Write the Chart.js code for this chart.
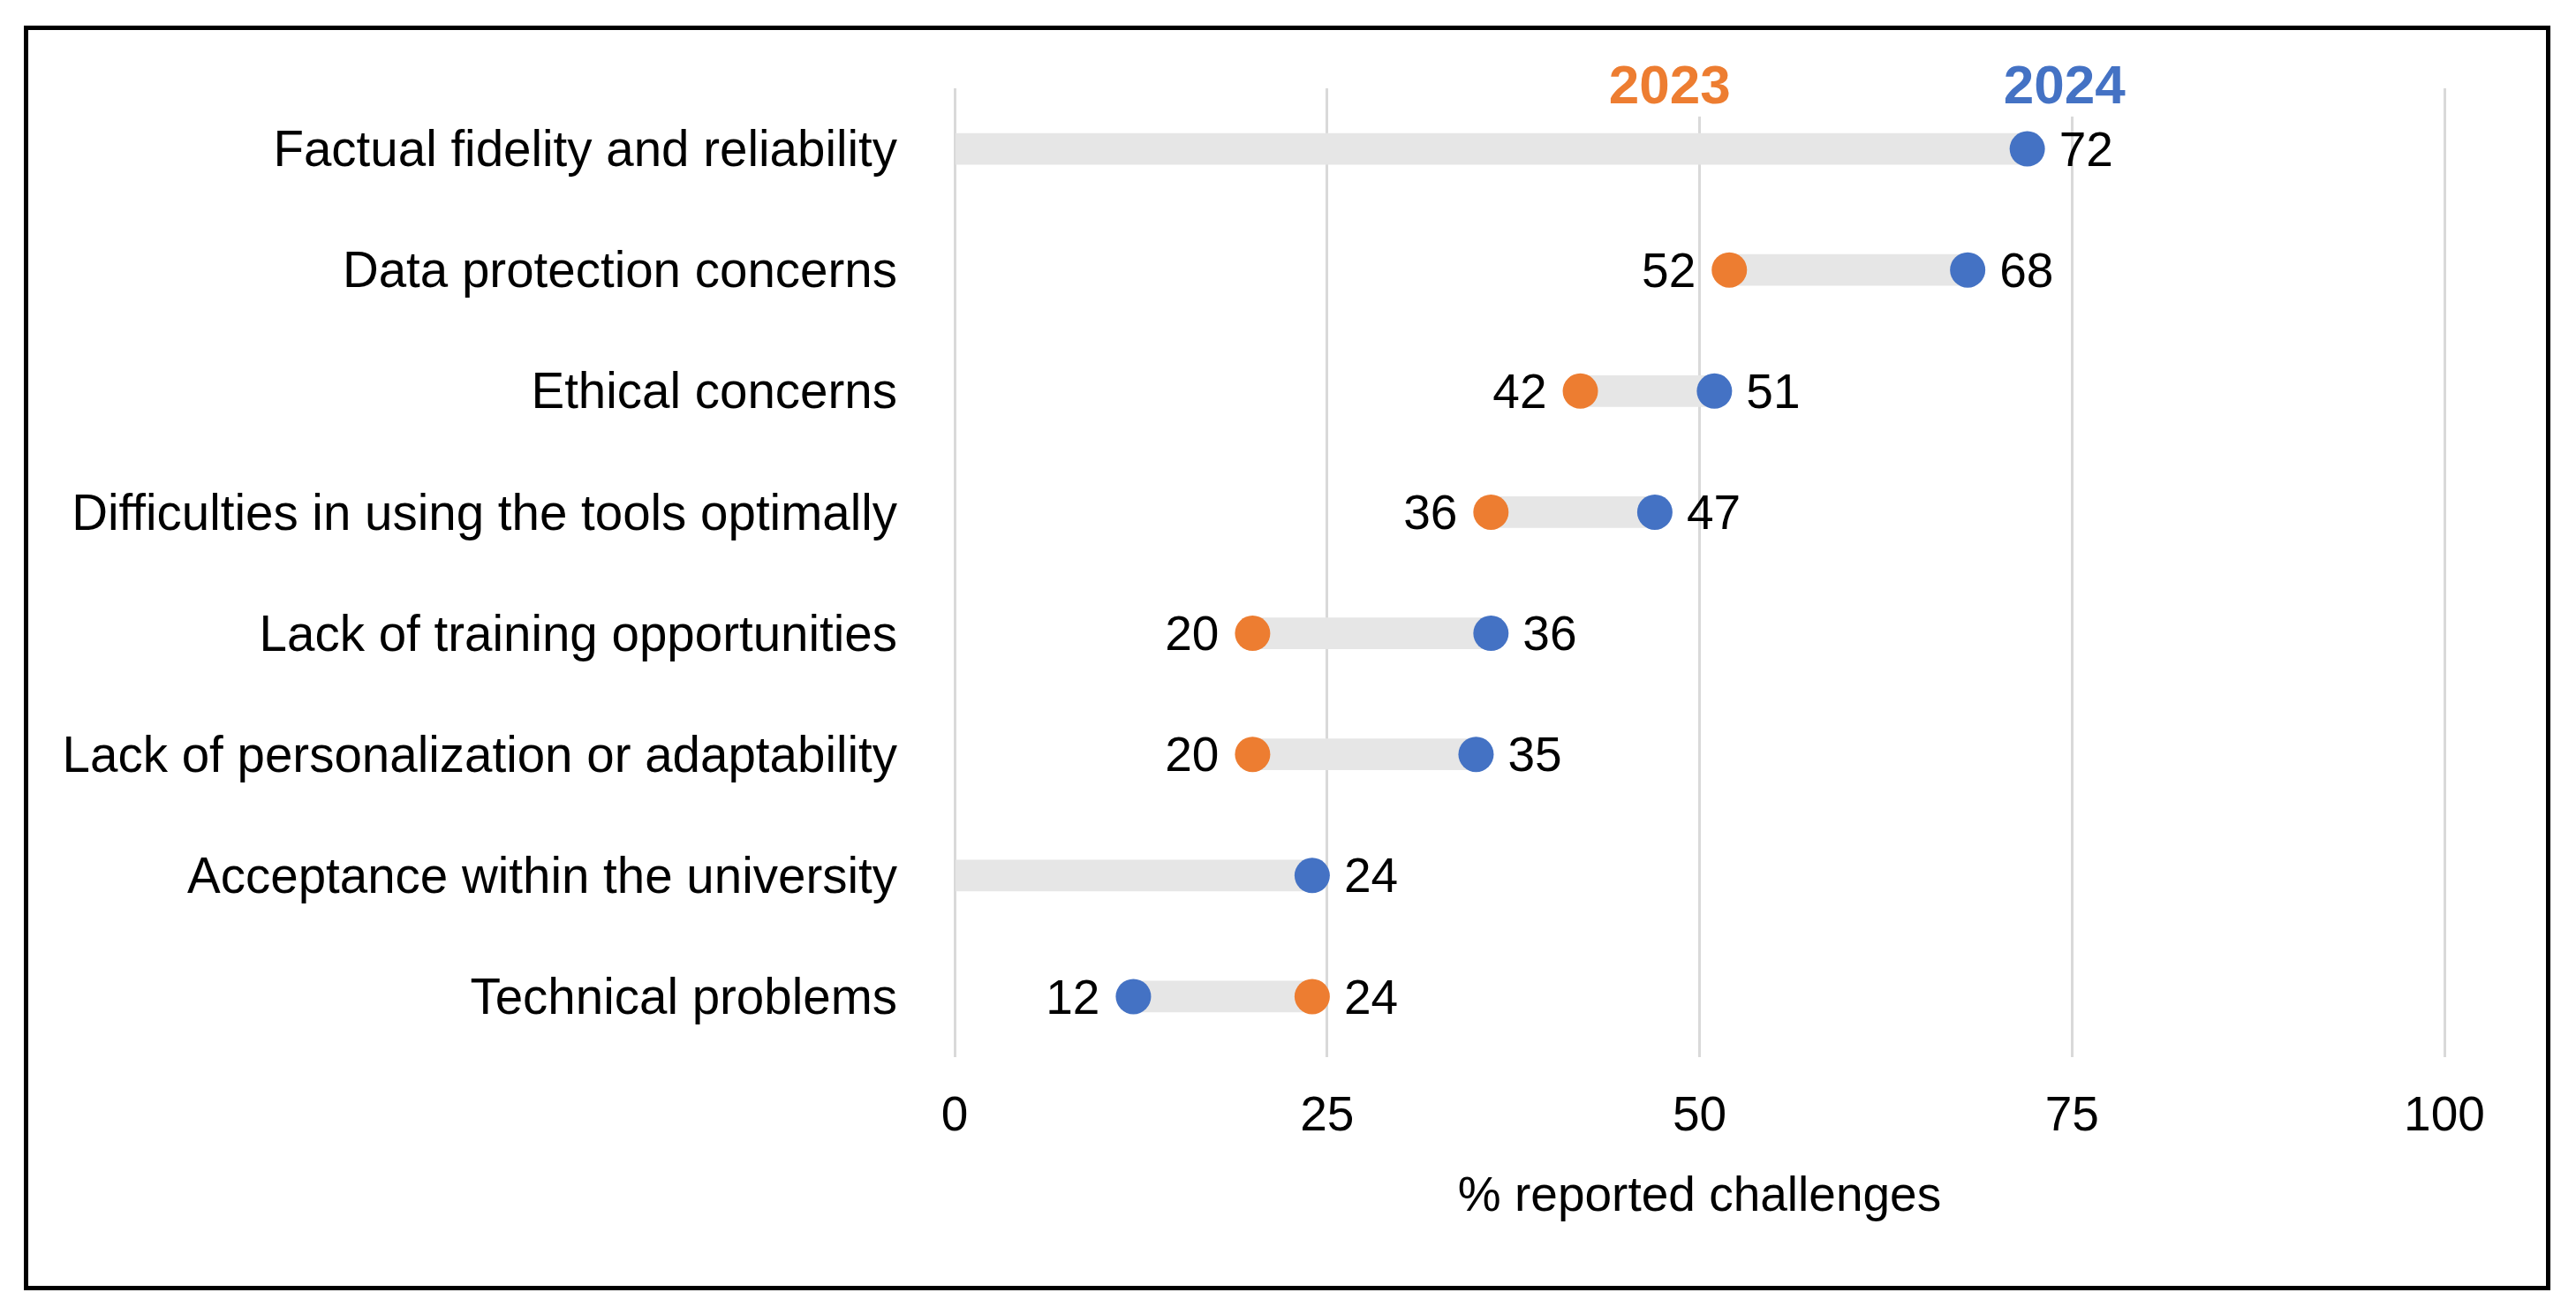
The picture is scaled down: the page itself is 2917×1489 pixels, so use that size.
<!DOCTYPE html>
<html>
<head>
<meta charset="utf-8">
<script src="https://cdn.jsdelivr.net/npm/chart.js@4.4.1/dist/chart.umd.min.js"></script>
<style>
  html, body { margin: 0; padding: 0; background: #fff; }
  #wrap { position: relative; width: 2917px; height: 1489px; overflow: hidden; }
  #frame {
    position: absolute; left: 27px; top: 29px; width: 2861px; height: 1432px;
    box-sizing: border-box; border: 5px solid #000;
  }
  #chart { position: absolute; left: 0; top: 0; }
</style>
</head>
<body>
<div id="wrap">
  <div id="frame"></div>
  <canvas id="chart" width="2917" height="1489"></canvas>
</div>
<script>
// --- data ---
const categories = [
  "Factual fidelity and reliability",
  "Data protection concerns",
  "Ethical concerns",
  "Difficulties in using the tools optimally",
  "Lack of training opportunities",
  "Lack of personalization or adaptability",
  "Acceptance within the university",
  "Technical problems",
];
const values2023 = [null, 52, 42, 36, 20, 20, null, 24];
const values2024 = [72, 68, 51, 47, 36, 35, 24, 12];
const xTicks = [0, 25, 50, 75, 100];
const axisTitle = "% reported challenges";

const ORANGE = "#ED7D31";
const BLUE = "#4472C4";
const BAR_GRAY = "#E6E6E6";
const FONT = '"Liberation Sans", Arial, Helvetica, sans-serif';

// grey connector: from 2023 (or 0 when missing) to 2024
const ranges = categories.map((c, i) => [values2023[i] ?? 0, values2024[i]]);

/**
 * Value labels next to each dot: smaller value on the left, larger on the right
 */
const valueLabels = {
  id: "valueLabels",
  afterDatasetsDraw(chart) {
    const ctx = chart.ctx;
    ctx.save();
    ctx.font = "55px " + FONT;
    ctx.fillStyle = "#000";
    ctx.textBaseline = "middle";
    const series = [values2023, values2024];
    series.forEach((vals, s) => {
      const other = series[1 - s];
      const meta = chart.getDatasetMeta(s + 1);
      vals.forEach((v, i) => {
        if (v === null) return;
        const pt = meta.data[i];
        const left = other[i] !== null && v < other[i];
        ctx.textAlign = left ? "right" : "left";
        ctx.fillText(String(v), left ? pt.x - 38 : pt.x + 36, pt.y + 4);
      });
    });
    ctx.restore();
  },
};

/**
 * "2023" / "2024" headers above the plot, masking the top of the grid lines
 */
const yearHeaders = {
  id: "yearHeaders",
  afterDatasetsDraw(chart) {
    const ctx = chart.ctx;
    const xScale = chart.scales.x;
    const top = chart.chartArea.top;
    const headers = [
      { text: "2023", color: ORANGE, at: 48 },
      { text: "2024", color: BLUE, at: 74.5 },
    ];
    ctx.save();
    ctx.font = "bold 62px " + FONT;
    ctx.textAlign = "center";
    ctx.textBaseline = "middle";
    headers.forEach((h) => {
      const x = xScale.getPixelForValue(h.at);
      const w = ctx.measureText(h.text).width;
      ctx.fillStyle = "#fff";
      ctx.fillRect(x - w / 2 - 6, top - 2, w + 12, 34);
      ctx.fillStyle = h.color;
      ctx.fillText(h.text, x, top);
    });
    ctx.restore();
  },
};

const chart = new Chart(document.getElementById("chart"), {
  type: "bar",
  data: {
    labels: categories,
    datasets: [
      {
        label: "range",
        data: ranges,
        backgroundColor: BAR_GRAY,
        barThickness: 35,
        borderSkipped: false,
        order: 3,
      },
      {
        type: "line",
        label: "2023",
        data: values2023,
        indexAxis: "y",
        showLine: false,
        pointRadius: 20,
        pointBorderWidth: 0,
        pointBackgroundColor: ORANGE,
        order: 1,
      },
      {
        type: "line",
        label: "2024",
        data: values2024,
        indexAxis: "y",
        showLine: false,
        pointRadius: 20,
        pointBorderWidth: 0,
        pointBackgroundColor: BLUE,
        order: 1,
      },
    ],
  },
  options: {
    indexAxis: "y",
    responsive: false,
    devicePixelRatio: 1,
    animation: false,
    layout: { padding: { left: 0, top: 100, right: 149, bottom: 0 } },
    plugins: {
      legend: { display: false },
      tooltip: { enabled: false },
    },
    scales: {
      x: {
        type: "linear",
        min: 0,
        max: 100,
        afterBuildTicks: (scale) => {
          scale.ticks = xTicks.map((v) => ({ value: v }));
        },
        afterFit: (scale) => {
          scale.height = 292;
        },
        border: { display: false },
        grid: { color: "#D9D9D9", lineWidth: 3, drawTicks: false },
        ticks: {
          color: "#000",
          font: { family: FONT, size: 55 },
          padding: 35,
        },
        title: {
          display: true,
          text: axisTitle,
          color: "#000",
          font: { family: FONT, size: 55 },
          padding: { top: 0, bottom: 100 },
        },
      },
      y: {
        type: "category",
        afterFit: (scale) => {
          scale.width = 1081;
        },
        border: { display: false },
        grid: { display: false, drawTicks: false },
        ticks: {
          color: "#000",
          font: { family: FONT, size: 56.5 },
          padding: 65,
          labelOffset: 4,
        },
      },
    },
  },
  plugins: [valueLabels, yearHeaders],
});
</script>
</body>
</html>
